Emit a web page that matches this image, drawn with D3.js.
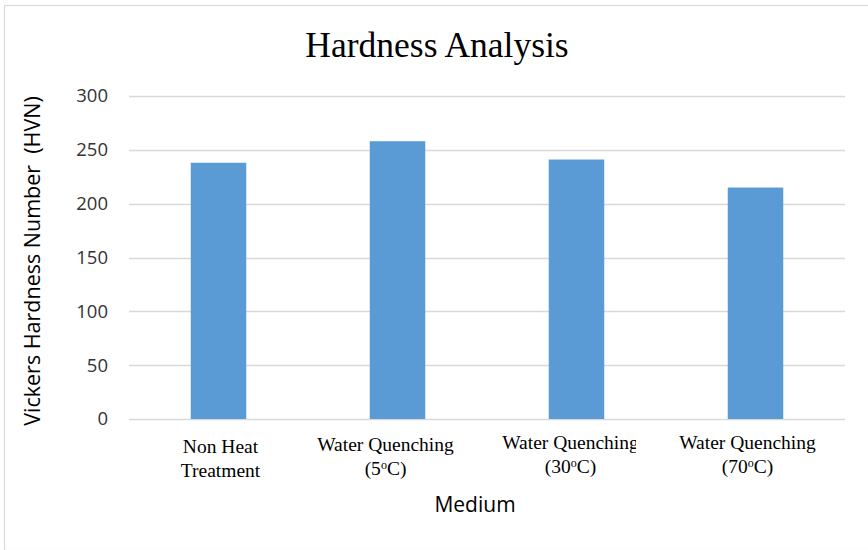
<!DOCTYPE html>
<html>
<head>
<meta charset="utf-8">
<script src="https://cdn.jsdelivr.net/npm/d3@7"></script>
<style>
  html, body { margin: 0; padding: 0; background: #fff; }
  svg { display: block; }
</style>
</head>
<body>
<svg id="chart" width="868" height="550"></svg>
<script>
// Hardness per quenching medium
const categories = ["Non Heat Treatment", "Water Quenching (5°C)", "Water Quenching (30°C)", "Water Quenching (70°C)"];
const labelLines = [
  [["Non Heat"], ["Treatment"]],
  [["Water Quenching"], ["(5", "o", "C)"]],
  [["Water Quenching"], ["(30", "o", "C)"]],
  [["Water Quenching"], ["(70", "o", "C)"]]
];
const labelDx = [2, -12, -6, -8];
const labelBaseline = [453, 451, 449, 449];
const hardness = [238, 258, 241, 215];
const yTicks = [0, 50, 100, 150, 200, 250, 300];

const svg = d3.select("#chart");
const W = 868, H = 550;
const plot = { left: 129, right: 845, top: 96, bottom: 419 };

// chart frame
svg.append("rect")
  .attr("x", 4.5).attr("y", 5.5)
  .attr("width", W + 10).attr("height", H - 5)
  .attr("fill", "#fff").attr("stroke", "#d9d9d9").attr("stroke-width", 1.2);

const x = d3.scaleBand()
  .domain(categories)
  .range([plot.left, plot.right])
  .paddingInner(0.69).paddingOuter(0.345);

const y = d3.scaleLinear().domain([0, 300]).range([plot.bottom, plot.top]);

// gridlines
svg.append("g")
  .selectAll("line")
  .data(yTicks)
  .join("line")
  .attr("x1", plot.left).attr("x2", plot.right)
  .attr("y1", d => Math.round(y(d)) + 0.5).attr("y2", d => Math.round(y(d)) + 0.5)
  .attr("stroke", "#d9d9d9").attr("stroke-width", 1.3);

// y axis labels
const yAxis = d3.axisLeft(y).tickValues(yTicks).tickSize(0).tickPadding(0);
const gy = svg.append("g").attr("transform", `translate(${plot.left - 21},0)`).call(yAxis);
gy.select(".domain").remove();
gy.selectAll("text")
  .attr("font-family", "'Open Sans', 'Liberation Sans', sans-serif")
  .attr("font-size", 18.5).attr("fill", "#333");

// bars
svg.append("g")
  .selectAll("rect")
  .data(hardness)
  .join("rect")
  .attr("x", (d, i) => x(categories[i]))
  .attr("width", x.bandwidth())
  .attr("y", d => y(d))
  .attr("height", d => y(0) - y(d))
  .attr("fill", "#5b9bd5");

// the third label's text box is narrower than its first line
svg.append("clipPath").attr("id", "clip-label3")
  .append("rect").attr("x", 480).attr("y", 425).attr("width", 156).attr("height", 60);

// category labels (two lines, with superscript degree mark)
const gx = svg.append("g");
categories.forEach((c, i) => {
  const cx = x(c) + x.bandwidth() / 2 + labelDx[i];
  const g = gx.append("g");
  if (i === 2) g.attr("clip-path", "url(#clip-label3)");
  labelLines[i].forEach((parts, li) => {
    const t = g.append("text")
      .attr("x", cx)
      .attr("y", labelBaseline[i] + li * 24)
      .attr("text-anchor", "middle")
      .attr("font-family", "'Liberation Serif', 'Times New Roman', serif")
      .attr("font-size", 19.5).attr("fill", "#000");
    parts.forEach((p, pi) => {
      const s = t.append("tspan").text(p);
      if (parts.length === 3 && pi === 1) s.attr("font-size", 12).attr("dy", -6);
      if (parts.length === 3 && pi === 2) s.attr("dy", 6);
    });
  });
});

// title
svg.append("text")
  .attr("x", 437).attr("y", 57)
  .attr("text-anchor", "middle")
  .attr("font-family", "'Liberation Serif', 'Times New Roman', serif")
  .attr("font-size", 35.5).attr("fill", "#000")
  .text("Hardness Analysis");

// axis titles
svg.append("text")
  .attr("x", 475).attr("y", 512)
  .attr("text-anchor", "middle")
  .attr("font-family", "'Open Sans', 'Liberation Sans', sans-serif")
  .attr("font-size", 21).attr("fill", "#000")
  .text("Medium");

svg.append("text")
  .attr("transform", "translate(40,261) rotate(-90)")
  .attr("text-anchor", "middle")
  .attr("font-family", "'Open Sans', 'Liberation Sans', sans-serif")
  .attr("font-size", 21.5).attr("fill", "#000")
  .attr("xml:space", "preserve")
  .text("Vickers Hardness Number  (HVN)");
</script>
</body>
</html>
